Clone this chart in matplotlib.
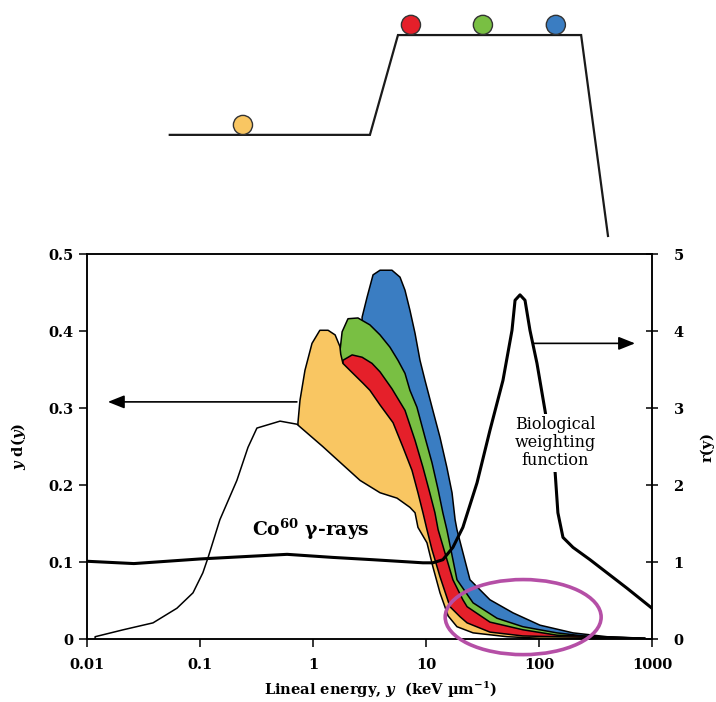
import numpy as np
import matplotlib
matplotlib.use('Agg')
import matplotlib.pyplot as plt
from matplotlib.patches import Ellipse
from matplotlib.ticker import NullLocator

plt.rcParams['font.family'] = ['DejaVu Serif']
plt.rcParams['font.weight'] = 'bold'
plt.rcParams['mathtext.fontset'] = 'custom'
plt.rcParams['mathtext.rm'] = 'DejaVu Serif:bold'
plt.rcParams['mathtext.it'] = 'DejaVu Serif:italic:bold'
plt.rcParams['mathtext.bf'] = 'DejaVu Serif:bold'

# ---------------- data (lineal energy y in keV/um, y d(y), r(y)) ----------------
co60_x = [0.0118, 0.0209, 0.0384, 0.0625, 0.0867, 0.106, 0.118, 0.150, 0.212, 0.266,
          0.319, 0.511, 0.721, 1.22, 1.50, 2.61, 3.92, 5.54, 7.21, 8.00, 8.49, 10.2,
          11.5, 13.3, 15.7, 18.8, 26.1, 52.1, 102, 800]
co60_y = [0.003, 0.012, 0.021, 0.040, 0.060, 0.086, 0.106, 0.155, 0.206, 0.249,
          0.274, 0.283, 0.279, 0.250, 0.238, 0.206, 0.190, 0.183, 0.171, 0.164, 0.145, 0.125,
          0.094, 0.060, 0.030, 0.016, 0.008, 0.003, 0.001, 0.0]

yellow_x = [0.736, 0.767, 0.849, 0.980, 1.15, 1.36, 1.57, 1.73, 1.76, 1.84, 2.12, 2.78,
            3.19, 3.92, 5.11, 6.26, 7.52, 8.49, 9.40, 10.2, 11.3, 13.3, 16.3, 20.0, 23.1,
            36.8, 72.1, 144, 783]
yellow_y = [0.281, 0.310, 0.349, 0.384, 0.401, 0.401, 0.395, 0.380, 0.370, 0.358, 0.349, 0.332,
            0.323, 0.304, 0.281, 0.249, 0.219, 0.190, 0.164, 0.142, 0.116, 0.081, 0.042, 0.029, 0.021,
            0.009, 0.004, 0.003, 0.001]

red_x = [1.84, 2.22, 2.72, 3.33, 3.92, 5.00, 6.52, 8.00, 9.40, 10.8, 12.0, 12.8, 17.3, 21.2,
         23.1, 36.8, 72.1, 144, 347, 867]
red_y = [0.362, 0.369, 0.366, 0.358, 0.347, 0.325, 0.297, 0.258, 0.223, 0.190, 0.164, 0.142, 0.077, 0.051,
         0.042, 0.022, 0.012, 0.005, 0.003, 0.001]

green_x = [1.73, 1.81, 2.04, 2.50, 3.19, 3.92, 4.80, 5.65, 6.52, 7.21, 8.32, 9.80, 11.3, 12.8,
           14.1, 15.3, 18.8, 26.1, 42.5, 72.1, 144, 283, 867]
green_y = [0.373, 0.399, 0.416, 0.417, 0.408, 0.395, 0.379, 0.362, 0.345, 0.323, 0.301, 0.262, 0.229, 0.194,
           0.164, 0.142, 0.077, 0.047, 0.027, 0.016, 0.008, 0.003, 0.001]

blue_x = [2.72, 3.01, 3.40, 3.92, 5.00, 5.89, 6.52, 7.21, 8.00, 8.85, 9.80, 11.5, 13.3, 15.3,
          17.0, 18.1, 18.8, 24.5, 36.8, 58.9, 102, 200, 400, 867]
blue_y = [0.418, 0.444, 0.473, 0.479, 0.479, 0.470, 0.453, 0.427, 0.397, 0.362, 0.336, 0.297, 0.262, 0.223,
          0.190, 0.155, 0.142, 0.077, 0.051, 0.034, 0.018, 0.008, 0.003, 0.001]

bio_x = [0.01, 0.026, 0.1, 0.59, 1.5, 3.4, 9.4, 11.5, 14.1, 17.3, 21.2, 28.3, 36.8, 48, 57.7,
         61.4, 67.9, 75.2, 83.2, 96, 113, 139, 147, 163, 200, 283, 400, 601, 1000]
bio_r = [1.01, 0.98, 1.04, 1.10, 1.06, 1.03, 0.99, 0.99, 1.03, 1.19, 1.45, 2.03, 2.71, 3.36, 4.01,
         4.40, 4.47, 4.40, 4.01, 3.58, 2.97, 2.16, 1.64, 1.32, 1.19, 1.03, 0.86, 0.66, 0.40]

# schematic above the plot (x on the same lineal-energy scale, level in arbitrary units)
schem_x = [0.054, 3.19, 5.65, 236, 408]
schem_level = [0.469, 0.469, 0.862, 0.862, 0.071]
ball_x = [0.240, 7.36, 31.9, 141]
ball_level = [0.508, 0.902, 0.902, 0.902]

x_ticks = [0.01, 0.1, 1, 10, 100, 1000]
x_ticklabels = ['0.01', '0.1', '1', '10', '100', '1000']
y_ticks = [0, 0.1, 0.2, 0.3, 0.4, 0.5]
y_ticklabels = ['0', '0.1', '0.2', '0.3', '0.4', '0.5']
r_ticks = [0, 1, 2, 3, 4, 5]
r_ticklabels = ['0', '1', '2', '3', '4', '5']

C_YELLOW = '#F9C662'
C_RED = '#E5202A'
C_GREEN = '#79BF43'
C_BLUE = '#3A7DC2'
C_MAGENTA = '#B54FA6'

# ---------------- figure ----------------
fig = plt.figure(figsize=(7.16, 7.02), dpi=100)
ax = fig.add_axes([0.1215, 0.0897, 0.7891, 0.5484])
ax.set_xscale('log')
ax.set_xlim(0.01, 1000)
ax.set_ylim(0, 0.5)


def band(x, y, color, z):
    xs = [x[0]] + list(x) + [x[-1]]
    ys = [0.0] + list(y) + [0.0]
    ax.fill(xs, ys, facecolor=color, edgecolor='black', lw=1.1, joinstyle='round', zorder=z)


band(blue_x, blue_y, C_BLUE, 2)
band(green_x, green_y, C_GREEN, 3)
band(red_x, red_y, C_RED, 4)
band(yellow_x, yellow_y, C_YELLOW, 5)
band(co60_x, co60_y, 'white', 6)

ax.annotate('', xy=(0.0153, 0.308), xytext=(0.72, 0.308),
            arrowprops=dict(arrowstyle='-|>,head_length=1.0,head_width=0.4',
                            lw=1.2, color='black', shrinkA=0, shrinkB=0), zorder=7)

ax.text(0.288, 0.134, 'Co$^{60}$ γ-rays', fontsize=13.5, fontweight='bold',
        ha='left', va='baseline', zorder=8)

ax.set_xticks(x_ticks)
ax.set_xticklabels(x_ticklabels)
ax.xaxis.set_minor_locator(NullLocator())
ax.set_yticks(y_ticks)
ax.set_yticklabels(y_ticklabels)
ax.tick_params(axis='x', direction='out', length=6, width=1.1, labelsize=10.5, pad=8)
ax.tick_params(axis='y', direction='out', length=6, width=1.1, labelsize=10.5, pad=3.5)
for s in ax.spines.values():
    s.set_linewidth(1.1)

ax.set_xlabel(r'Lineal energy, $y$  (keV µm$^{-1}$)', fontsize=10.5, fontweight='bold')
ax.xaxis.set_label_coords(0.52, -0.105)
ax.set_ylabel(r'$y$ d($y$)', fontsize=10.5, fontweight='bold')
ax.yaxis.set_label_coords(-0.104, 0.5)

ax2 = ax.twinx()
ax2.set_ylim(0, 5)
ax2.plot(bio_x, bio_r, color='black', lw=2.2, solid_joinstyle='round', zorder=3)
ax2.set_yticks(r_ticks)
ax2.set_yticklabels(r_ticklabels)
ax2.tick_params(axis='y', direction='inout', length=9, width=1.1, labelsize=10.5, pad=11)
ax2.set_ylabel('r(y)', fontsize=10.5, fontweight='bold')
ax2.yaxis.set_label_coords(1.085, 0.5)
for s in ax2.spines.values():
    s.set_linewidth(1.1)

ax2.annotate('', xy=(708, 3.84), xytext=(88.5, 3.84),
             arrowprops=dict(arrowstyle='-|>,head_length=1.0,head_width=0.4',
                             lw=1.2, color='black', shrinkA=0, shrinkB=0), zorder=4)

ax2.text(139, 2.55, 'Biological\nweighting\nfunction', fontsize=11.5, fontweight='normal',
         ha='center', va='center', linespacing=1.1, zorder=5,
         bbox=dict(facecolor='white', edgecolor='none', pad=1.5))

ax2.add_patch(Ellipse((0.772, 0.057), 0.276, 0.195, transform=ax2.transAxes, fill=False,
                      edgecolor=C_MAGENTA, lw=2.6, clip_on=False, zorder=10))

# ---------------- schematic ----------------
axt = fig.add_axes([0.1215, 0.6382, 0.7891, 0.3618])
axt.set_xscale('log')
axt.set_xlim(0.01, 1000)
axt.set_ylim(0, 1)
axt.axis('off')
axt.plot(schem_x, schem_level, color='#1a1a1a', lw=1.6, solid_joinstyle='miter')
axt.scatter(ball_x, ball_level, s=190, c=[C_YELLOW, C_RED, C_GREEN, C_BLUE],
            edgecolors='#333333', linewidths=1.0, zorder=3)

fig.savefig('out.png', dpi=100)
